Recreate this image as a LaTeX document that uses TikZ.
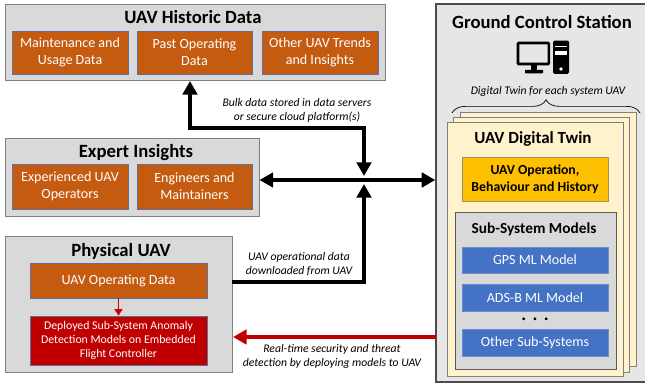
\documentclass[tikz,border=0pt]{standalone}
\usepackage{fontspec}
\setmainfont{Carlito}
\usetikzlibrary{arrows.meta,decorations.pathreplacing}
\definecolor{panelgrey}{HTML}{D9D9D9}
\definecolor{stationgrey}{HTML}{E7E6E6}
\definecolor{panelline}{HTML}{7F7F7F}
\definecolor{rust}{HTML}{C55A11}
\definecolor{deepred}{HTML}{C00000}
\definecolor{modelblue}{HTML}{4472C4}
\definecolor{amber}{HTML}{FFC000}
\definecolor{cream}{HTML}{FFF2CC}
\definecolor{boxedge}{HTML}{5F6F96}
\tikzset{
	panel/.style={draw=panelline,fill=panelgrey,line width=0.7pt,inner sep=0pt},
	sheet/.style={draw=panelline,fill=cream,line width=0.7pt,inner sep=0pt},
	titletext/.style={font=\fontsize{13.3}{16}\selectfont\bfseries,inner sep=0pt},
	rustbox/.style={draw=boxedge,fill=rust,line width=0.6pt,text=white,align=center,inner sep=0pt,font=\fontsize{10}{12}\selectfont},
	redbox/.style={rustbox,fill=deepred,font=\fontsize{8.4}{10.2}\selectfont},
	bluebox/.style={rustbox,draw=modelblue!80!white,fill=modelblue},
	amberbox/.style={draw=panelline!70!amber,fill=amber,line width=0.6pt,align=center,inner sep=0pt,font=\fontsize{9.8}{11.8}\selectfont\bfseries},
	note/.style={font=\fontsize{8.3}{10}\selectfont\itshape,align=center,inner sep=0pt},
	bigarrow/.style={line width=2.6pt,>={Triangle[length=3.4mm,width=3.6mm]}},
	redarrow/.style={draw=deepred,line width=2.6pt,-{Triangle[length=3.4mm,width=3.6mm]}},
}
\begin{document}
\begin{tikzpicture}
		\useasboundingbox (0,0) rectangle (16.125,9.675);
		% historic data
		\node [panel,minimum width=9.5cm,minimum height=1.9cm] (historic) at (4.875,8.625) {};
		\node [titletext] (historictitle) at (4.825,9.25) {UAV Historic Data};
		\node [rustbox,minimum width=2.9cm,minimum height=1.075cm] (maint) at (1.75,8.3625) {Maintenance and\\Usage Data};
		\node [rustbox,minimum width=2.875cm,minimum height=1.075cm] (past) at (4.8625,8.3625) {Past Operating\\Data};
		\node [rustbox,minimum width=2.9cm,minimum height=1.075cm] (trends) at (8,8.3625) {Other UAV Trends\\and Insights};
		% expert insights
		\node [panel,minimum width=6.35cm,minimum height=1.95cm] (expert) at (3.3,5.25) {};
		\node [titletext] (experttitle) at (3.4,5.85) {Expert Insights};
		\node [rustbox,minimum width=2.9cm,minimum height=1.125cm] (operators) at (1.75,5.0125) {Experienced UAV\\Operators};
		\node [rustbox,minimum width=2.875cm,minimum height=1.125cm] (engineers) at (4.8625,5.0125) {Engineers and\\Maintainers};
		% physical uav
		\node [panel,minimum width=5.675cm,minimum height=3.4cm] (physical) at (2.9625,2.075) {};
		\node [titletext] (physicaltitle) at (3.025,3.4) {Physical UAV};
		\node [rustbox,minimum width=4.425cm,minimum height=0.875cm] (opdata) at (2.9625,2.6625) {UAV Operating Data};
		\node [redbox,minimum width=4.425cm,minimum height=1.225cm] (deployed) at (2.9625,1.1625) {Deployed Sub-System Anomaly\\Detection Models on Embedded\\Flight Controller};
		\draw [draw=deepred,line width=1pt,-{Triangle[length=1.6mm,width=2mm]}] (opdata) -- (deployed);
		% ground control station
		\node [panel,draw=black!70,fill=stationgrey,line width=1pt,minimum width=5.35cm,minimum height=9.45cm] (station) at (13.575,4.85) {};
		\node [titletext] (stationtitle) at (13.55,9.125) {Ground Control Station};
		\draw [line width=1.8pt,rounded corners=0.5pt] (12.95,8.6) rectangle (13.72,8.075);
		\fill (13.275,8.05) rectangle (13.425,7.9);
		\fill [rounded corners=0.5pt] (13.125,7.93) rectangle (13.575,7.84);
		\fill [rounded corners=1pt] (13.825,8.66) rectangle (14.225,7.83);
		\fill [white] (13.87,8.53) rectangle (14.18,8.49);
		\fill [white] (13.87,8.4) rectangle (14.18,8.3);
		\fill [white] (14.025,7.95) circle (0.045);
		\node [note] (twinnote) at (13.7,7.4) {Digital Twin for each system UAV};
		\coordinate (braceleft) at (11.3,6.85);
		\coordinate (braceright) at (16,6.85);
		\draw [decorate,decoration={brace,amplitude=0.33cm},line width=0.5pt] (braceleft) -- (braceright);
		\node [sheet,minimum width=4.4cm,minimum height=6.35cm] (sheetc) at (13.7,3.7) {};
		\node [sheet,minimum width=4.4cm,minimum height=6.375cm] (sheetb) at (13.525,3.5625) {};
		\node [sheet,minimum width=4.4cm,minimum height=6.35cm] (sheeta) at (13.375,3.45) {};
		\node [titletext,font=\fontsize{12.1}{15}\selectfont\bfseries] (twintitle) at (13.325,6.2) {UAV Digital Twin};
		\node [amberbox,minimum width=3.65cm,minimum height=1.1cm] (behaviour) at (13.375,5.2) {UAV Operation,\\Behaviour and History};
		\node [panel,draw=black!65,minimum width=4.025cm,minimum height=3.925cm] (subsystems) at (13.3875,2.4125) {};
		\node [font=\fontsize{10.9}{13}\selectfont\bfseries,inner sep=0pt] (subtitle) at (13.35,3.95) {Sub-System Models};
		\node [bluebox,minimum width=3.65cm,minimum height=0.65cm] (gps) at (13.375,3.175) {GPS ML Model};
		\node [bluebox,minimum width=3.65cm,minimum height=0.675cm] (adsb) at (13.375,2.2375) {ADS-B ML Model};
		\node [font=\fontsize{5.5}{8}\selectfont,inner sep=0pt] (dots) at (13.375,1.675) {\textbullet\hspace{0.95em}\textbullet\hspace{0.95em}\textbullet};
		\node [bluebox,minimum width=3.65cm,minimum height=0.675cm] (others) at (13.375,1.1125) {Other Sub-Systems};
		% links between the panels
		\coordinate (hub) at (9.1,5.175);
		\coordinate (hubtop) at (9.1,5.275);
		\coordinate (hubbottom) at (9.1,5.075);
		\coordinate (bulkleft) at (4.75,6.475);
		\coordinate (bulkright) at (9.1,6.475);
		\coordinate (bulktip) at (4.75,7.65);
		\coordinate (uavcorner) at (9.1,2.625);
		\coordinate (uavstart) at (5.8,2.625);
		\coordinate (redstart) at (10.9,1.25);
		\coordinate (redtip) at (5.825,1.25);
		\draw [bigarrow,<->] (expert.east |- hub) -- (station.west |- hub);
		\draw [bigarrow,<->] (bulktip) -- (bulkleft) -- (bulkright) -- (hubtop);
		\draw [bigarrow,->] (uavstart) -- (uavcorner) -- (hubbottom);
		\draw [redarrow] (redstart) -- (redtip);
		\node [note] (bulknote) at (7.425,6.925) {Bulk data stored in data servers\\or secure cloud platform(s)};
		\node [note] (uavnote) at (7.475,3.075) {UAV operational data\\downloaded from UAV};
		\node [note] (realtimenote) at (8.3,0.775) {Real-time security and threat\\detection by deploying models to UAV};
\end{tikzpicture}
\end{document}
